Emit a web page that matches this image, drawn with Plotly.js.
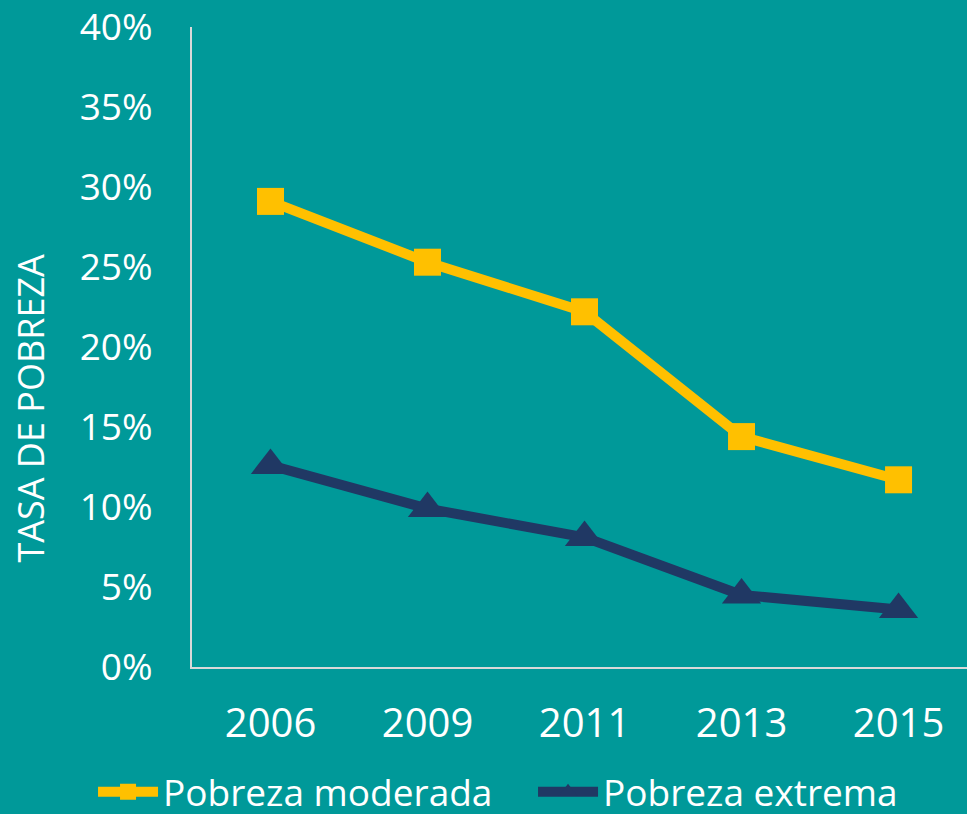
<!DOCTYPE html>
<html>
<head>
<meta charset="utf-8">
<script src="https://cdn.plot.ly/plotly-3.0.1.min.js"></script>
<style>html,body{margin:0;padding:0;background:#009999;}#chart{width:967px;height:814px;}</style>
</head>
<body>
<div id="chart"></div>
<script>
var years = ["2006", "2009", "2011", "2013", "2015"];
var moderada = [29.1, 25.3, 22.2, 14.4, 11.7];
var extrema = [12.6, 9.9, 8.1, 4.5, 3.6];
var yTickVals = [0, 5, 10, 15, 20, 25, 30, 35, 40];
var yTickText = ["0%", "5%", "10%", "15%", "20%", "25%", "30%", "35%", "40%"];
var yTitle = "TASA DE POBREZA";

var font = "'Open Sans', 'Noto Sans', sans-serif";

var traces = [
  {
    x: years, y: moderada, name: "Pobreza moderada", type: "scatter", mode: "lines+markers",
    line: {color: "#FFC000", width: 10},
    marker: {symbol: "square", size: 27, color: "#FFC000"},
    hoverinfo: "skip"
  },
  {
    x: years, y: extrema, name: "Pobreza extrema", type: "scatter", mode: "lines+markers",
    line: {color: "#203864", width: 10},
    marker: {symbol: "triangle-up", size: 34, color: "#203864"},
    hoverinfo: "skip"
  }
];

var layout = {
  width: 967, height: 814,
  paper_bgcolor: "#009999", plot_bgcolor: "#009999",
  margin: {l: 192, r: 0, t: 27, b: 147, autoexpand: false},
  font: {family: font, color: "#ffffff"},
  showlegend: true,
  legend: {
    orientation: "h", xref: "paper", yref: "paper",
    x: -0.1277, xanchor: "left", y: -0.244, yanchor: "bottom",
    font: {size: 37, color: "#ffffff", family: font},
    bgcolor: "rgba(0,0,0,0)", itemwidth: 60,
    entrywidth: 365, entrywidthmode: "pixels"
  },
  xaxis: {
    type: "category", range: [-0.5, 4.436], fixedrange: true,
    showline: true, linecolor: "#D9D9D9", linewidth: 2,
    showgrid: false, zeroline: false, ticks: "",
    tickfont: {size: 40, color: "#ffffff", family: font},
    ticklabelstandoff: 20, ticklabeloverflow: "allow"
  },
  yaxis: {
    range: [0, 40], fixedrange: true,
    tickvals: yTickVals, ticktext: yTickText,
    showline: true, linecolor: "#D9D9D9", linewidth: 2,
    showgrid: false, zeroline: false, ticks: "",
    tickfont: {size: 37, color: "#ffffff", family: font},
    ticklabelstandoff: 30, ticklabeloverflow: "allow"
  },
  annotations: [{
    text: yTitle, textangle: -90, showarrow: false,
    xref: "paper", yref: "paper", x: -0.208, y: 0.405,
    xanchor: "center", yanchor: "middle",
    font: {size: 36, color: "#ffffff", family: font}
  }]
};

Plotly.newPlot("chart", traces, layout, {displayModeBar: false, staticPlot: true});
</script>
</body>
</html>
